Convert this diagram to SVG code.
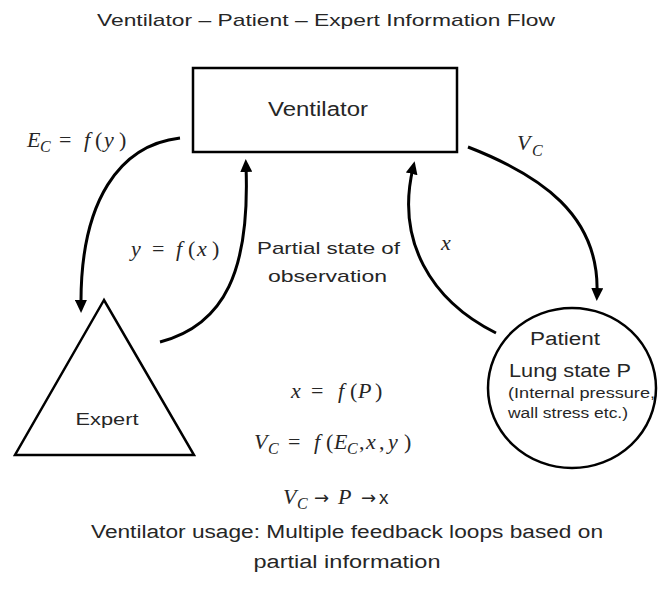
<svg xmlns="http://www.w3.org/2000/svg" width="661" height="589" viewBox="0 0 661 589">
<style>
.t{font-family:"Liberation Sans",Arial,sans-serif;fill:#262626}
.m{font-family:"Liberation Serif","Times New Roman",serif;font-style:italic;fill:#262626}
.u{font-style:normal}
.s{font-size:16px}
.ar{font-family:"DejaVu Sans",sans-serif;font-style:normal;font-size:18px}
.shape{fill:#fff;stroke:#000;stroke-width:2.5}
.conn{fill:none;stroke:#000;stroke-width:3}
</style>
<defs>
<marker id="ah" markerUnits="userSpaceOnUse" markerWidth="13" markerHeight="12" refX="6" refY="6" orient="auto" viewBox="0 0 13 12">
<path d="M0,0 L13,6 L0,12 z" fill="#000"/>
</marker>
</defs>
<rect width="661" height="589" fill="#fff"/>
<text class="t" x="326" y="26" font-size="17" text-anchor="middle" textLength="458" lengthAdjust="spacingAndGlyphs">Ventilator – Patient – Expert Information Flow</text>

<g id="ventilator">
<rect class="shape" x="193" y="68" width="264" height="84"/>
<text class="t" x="318" y="116" font-size="20" text-anchor="middle" textLength="100" lengthAdjust="spacingAndGlyphs">Ventilator</text>
</g>

<g id="expert">
<polygon class="shape" points="104,300 15,455 194,455"/>
<text class="t" x="107" y="425" font-size="16" text-anchor="middle" textLength="63" lengthAdjust="spacingAndGlyphs">Expert</text>
</g>

<g id="patient">
<ellipse class="shape" cx="572" cy="388" rx="84" ry="80"/>
<text class="t" x="565" y="345" font-size="18" text-anchor="middle" textLength="70" lengthAdjust="spacingAndGlyphs">Patient</text>
<text class="t" x="570" y="377" font-size="19" text-anchor="middle" textLength="122" lengthAdjust="spacingAndGlyphs">Lung state P</text>
<text class="t" x="508" y="398" font-size="14" textLength="147" lengthAdjust="spacingAndGlyphs">(Internal pressure,</text>
<text class="t" x="508" y="418" font-size="14" textLength="120" lengthAdjust="spacingAndGlyphs">wall stress etc.)</text>
</g>

<g id="connectors">
<path class="conn" d="M180,138 C120,145 80,200 81,306" marker-end="url(#ah)"/>
<path class="conn" d="M160,342 C225,325 250,270 246,166" marker-end="url(#ah)"/>
<path class="conn" d="M496,333 C430,300 396,240 413,168" marker-end="url(#ah)"/>
<path class="conn" d="M468,147 C540,175 600,215 597,294" marker-end="url(#ah)"/>
</g>

<g id="labels">
<text class="m" y="147" font-size="22"><tspan x="27">E</tspan><tspan x="40" dy="5" class="s">C</tspan><tspan x="59" dy="-5" class="u">=</tspan><tspan x="84">f</tspan><tspan x="95" class="u">(</tspan><tspan x="104">y</tspan><tspan x="119" class="u">)</tspan></text>
<text class="m" y="256" font-size="22"><tspan x="131">y</tspan><tspan x="152" class="u">=</tspan><tspan x="176">f</tspan><tspan x="188" class="u">(</tspan><tspan x="197">x</tspan><tspan x="212" class="u">)</tspan></text>
<text class="t" x="257" y="254" font-size="17" textLength="143" lengthAdjust="spacingAndGlyphs">Partial state of</text>
<text class="t" x="268" y="282" font-size="17" textLength="119" lengthAdjust="spacingAndGlyphs">observation</text>
<text class="m" x="441" y="250" font-size="22">x</text>
<text class="m" y="150" font-size="22"><tspan x="517">V</tspan><tspan x="532" dy="6" class="s">C</tspan></text>

<text class="m" y="398" font-size="22"><tspan x="291">x</tspan><tspan x="311" class="u">=</tspan><tspan x="338">f</tspan><tspan x="350" class="u">(</tspan><tspan x="358">P</tspan><tspan x="375" class="u">)</tspan></text>
<text class="m" y="449" font-size="22"><tspan x="254">V</tspan><tspan x="268" dy="5" class="s">C</tspan><tspan x="288" dy="-5" class="u">=</tspan><tspan x="314">f</tspan><tspan x="326" class="u">(</tspan><tspan x="334">E</tspan><tspan x="347" dy="5" class="s">C</tspan><tspan x="359" dy="-5" class="u">,</tspan><tspan x="366">x</tspan><tspan x="379" class="u">,</tspan><tspan x="388">y</tspan><tspan x="404" class="u">)</tspan></text>
<text class="m" y="504" font-size="22"><tspan x="283">V</tspan><tspan x="297" dy="5" class="s">C</tspan><tspan x="314" dy="-5" class="ar">→</tspan><tspan x="338">P</tspan><tspan x="361" class="ar">→</tspan><tspan x="379" class="u" font-family="Liberation Sans, Arial, sans-serif" font-size="19">x</tspan></text>

<text class="t" x="347" y="538" font-size="18" text-anchor="middle" textLength="512" lengthAdjust="spacingAndGlyphs">Ventilator usage: Multiple feedback loops based on</text>
<text class="t" x="347" y="568" font-size="18" text-anchor="middle" textLength="187" lengthAdjust="spacingAndGlyphs">partial information</text>
</g>
</svg>
